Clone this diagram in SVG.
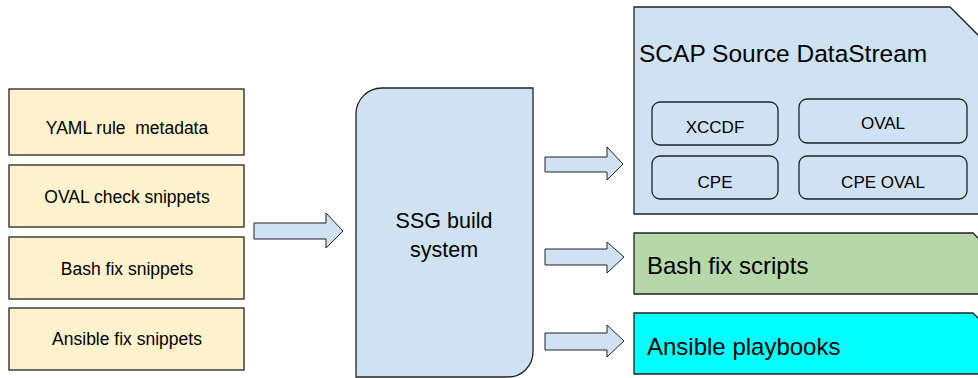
<svg xmlns="http://www.w3.org/2000/svg" width="978" height="378" viewBox="0 0 978 378">
<style>
text{font-family:"Liberation Sans",Arial,sans-serif;fill:#000}
.src{fill:#fff2cc;stroke:#222;stroke-width:1.3}
.blue{fill:#cfe2f3;stroke:#222;stroke-width:1.3}
.arrow{fill:#cfe2f3;stroke:#222;stroke-width:1}
.s15{font-size:17.5px;text-anchor:middle}
.s16{font-size:17px;text-anchor:middle}
.s22{font-size:24px}
</style>
<rect width="978" height="378" fill="#fff"/>
<g id="yaml"><rect class="src" x="9" y="89" width="235" height="66"/><text class="s15" x="127" y="134" xml:space="preserve">YAML rule  metadata</text></g>
<g id="oval-snippets"><rect class="src" x="9" y="165" width="235" height="62"/><text class="s15" x="127" y="203">OVAL check snippets</text></g>
<g id="bash-snippets"><rect class="src" x="9" y="237" width="235" height="62"/><text class="s15" x="127" y="275">Bash fix snippets</text></g>
<g id="ansible-snippets"><rect class="src" x="9" y="308" width="235" height="62"/><text class="s15" x="127" y="345">Ansible fix snippets</text></g>
<g id="ssg"><path class="blue" d="M356,377 V114 A26,26 0 0 1 382,88 H533 V352 A25,25 0 0 1 508,377 Z"/><text x="444" y="228" font-size="21.5" text-anchor="middle">SSG build</text><text x="444" y="257" font-size="21.5" text-anchor="middle">system</text></g>
<g id="scap"><path class="blue" d="M634,7 H950 L979,36 V214 H634 Z"/><text x="639" y="62" font-size="24.5">SCAP Source DataStream</text>
<g id="xccdf"><rect class="blue" x="652" y="102" width="126" height="43" rx="8"/><text class="s16" x="715" y="133">XCCDF</text></g>
<g id="oval"><rect class="blue" x="799" y="99" width="168" height="44" rx="8"/><text class="s16" x="883" y="129">OVAL</text></g>
<g id="cpe"><rect class="blue" x="652" y="156" width="126" height="43" rx="8"/><text class="s16" x="715" y="188">CPE</text></g>
<g id="cpe-oval"><rect class="blue" x="799" y="156" width="168" height="43" rx="8"/><text class="s16" x="883" y="188">CPE OVAL</text></g>
</g>
<g id="bash-scripts"><path d="M634,233 H973 L979,239 V294 H634 Z" fill="#b6d7a8" stroke="#222" stroke-width="1.3"/><text class="s22" x="647" y="274">Bash fix scripts</text></g>
<g id="ansible-playbooks"><path d="M634,313 H973 L979,319 V374 H634 Z" fill="#00ffff" stroke="#222" stroke-width="1.3"/><text class="s22" x="647" y="355">Ansible playbooks</text></g>
<g id="connectors">
<path class="arrow" d="M254,223 H326 V213 L343,231 L326,248 V239 H254 Z"/>
<path class="arrow" d="M545,157 H607 V147 L623,164 L607,180 V172 H545 Z"/>
<path class="arrow" d="M545,249 H607 V242 L624,257 L607,273 V265 H545 Z"/>
<path class="arrow" d="M545,333 H607 V325 L624,341 L607,357 V350 H545 Z"/>
</g>
</svg>
